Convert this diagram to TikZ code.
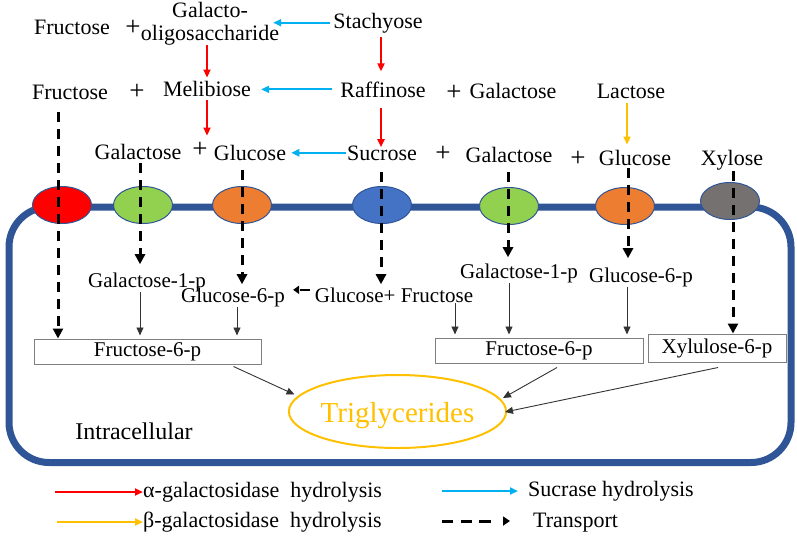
\documentclass[tikz,border=0pt]{standalone}
\usepackage{fontspec}
\setmainfont{Liberation Serif}
\newfontfamily\tnr{Liberation Serif}
\usetikzlibrary{arrows.meta,calc,shapes.geometric}
\definecolor{memb}{HTML}{2F5597}
\definecolor{cred}{HTML}{FF0000}
\definecolor{cblue}{HTML}{00B0F0}
\definecolor{corange}{HTML}{FFC000}
\definecolor{egreen}{HTML}{92D050}
\definecolor{eorange}{HTML}{ED7D31}
\definecolor{eblue}{HTML}{4472C4}
\definecolor{egray}{HTML}{767171}
\definecolor{boxgray}{HTML}{7F7F7F}
\begin{document}
\begin{tikzpicture}[x=1pt,y=-1pt,
  txt/.style={font=\tnr\fontsize{22}{23}\selectfont, inner sep=0pt, anchor=base},
  itxt/.style={font=\tnr\fontsize{21}{22}\selectfont, inner sep=0pt, anchor=base},
  ltxt/.style={font=\tnr\fontsize{22}{23}\selectfont, inner sep=0pt, anchor=base west},
  plus/.style={font=\tnr\fontsize{27}{27}\selectfont, inner sep=0pt, anchor=center},
  enz/.style={line width=2pt, -{Triangle[length=8pt,width=7pt]}},
  redA/.style={enz, draw=cred},
  bluA/.style={enz, draw=cblue},
  oraA/.style={enz, draw=corange},
  trA/.style={line width=3pt, dash pattern=on 10pt off 7pt, -{Triangle[length=10pt,width=10pt]}},
  trB/.style={line width=2.5pt, dash pattern=on 10pt off 6pt, -{Triangle[length=6pt,width=8pt]}},
  trLeg/.style={line width=3pt, dash pattern=on 11pt off 7.5pt on 11pt off 7.5pt on 12pt off 30pt, -{Triangle[length=7pt,width=9pt]}},
  thA/.style={draw=black!80, line width=0.9pt, -{Triangle[length=8pt,width=7pt]}},
  port/.style={ellipse, draw=memb, line width=1pt, minimum width=59pt, minimum height=37pt, inner sep=0pt},
  mbox/.style={draw=boxgray, line width=1pt, inner sep=0pt, font=\tnr\fontsize{21}{22}\selectfont}
]
\useasboundingbox (0,0) rectangle (797,539);
% membrane / cell
\draw[memb, line width=7pt, rounded corners=40pt] (9,207) rectangle (791,462.5);
% transporters
\node[port, fill=cred] (t1) at (62,205) {};
\node[port, fill=egreen] (t2) at (143,205) {};
\node[port, fill=eorange] (t3) at (242,205) {};
\node[port, fill=eblue] (t4) at (382,205) {};
\node[port, fill=egreen] (t5) at (509,206) {};
\node[port, fill=eorange] (t6) at (625,206) {};
\node[port, fill=egray] (t7) at (730,201) {};
% row 1
\node[txt] (fru1) at (72,34) {Fructose};
\node[plus] (p1) at (133,28) {+};
\node[txt, anchor=north, align=center] (gos) at (210,2) {Galacto-\\oligosaccharide};
\node[txt] (sta) at (378,28) {Stachyose};
% row 2
\node[txt] (fru2) at (70,99) {Fructose};
\node[plus] (p2) at (137,92) {+};
\node[txt] (mel) at (207,96) {Melibiose};
\node[txt] (raf) at (383,97) {Raffinose};
\node[plus] (p3) at (454,93) {+};
\node[txt] (gal2) at (513,98) {Galactose};
\node[txt] (lac) at (631,98) {Lactose};
% row 3
\node[txt] (gal3) at (138,159) {Galactose};
\node[plus] (p4) at (200,150) {+};
\node[txt] (glc3) at (250,160) {Glucose};
\node[txt] (suc) at (382,160) {Sucrose};
\node[plus] (p5) at (443,154) {+};
\node[txt] (gal3R) at (509,162) {Galactose};
\node[plus] (p6) at (578,159) {+};
\node[txt] (glc3R) at (635,165) {Glucose};
\node[txt] (xyl) at (732,165) {Xylose};
% intracellular
\node[itxt] (gp1L) at (147,287) {Galactose-1-p};
\node[itxt] (g6pL) at (233,302) {Glucose-6-p};
\node[itxt] (gf) at (394,302) {Glucose+ Fructose};
\node[itxt] (gp1R) at (519,278) {Galactose-1-p};
\node[itxt] (g6pR) at (641,282) {Glucose-6-p};
\node[mbox, minimum width=227pt, minimum height=25pt] (f6pL) at (147.5,351.5) {Fructose-6-p};
\node[mbox, minimum width=208pt, minimum height=25pt] (f6pR) at (539,350.5) {Fructose-6-p};
\node[mbox, minimum width=138pt, minimum height=28pt] (xylp) at (717,348) {Xylulose-6-p};
\node[ellipse, draw=corange, line width=2pt, minimum width=211pt, minimum height=73pt, inner sep=0pt, text=corange, text height=21pt, text depth=0pt, font=\tnr\fontsize{29}{30}\selectfont] (tg) at (397.5,411.5) {Triglycerides};
\node[txt, font=\tnr\fontsize{24}{26}\selectfont] (intra) at (134,439) {Intracellular};
% sucrase hydrolysis
\draw[bluA] ($(sta.west)+(-3,0)$) -- ($(sta.west -| gos.east)+(-6,0)$);
\draw[bluA] ($(raf.west)+(-8,0)$) -- ($(raf.west -| mel.east)+(10,0)$);
\draw[bluA] ($(suc.west)+(-1,0)$) -- ($(suc.west -| glc3.east)+(5,0)$);
% alpha-galactosidase
\draw[redA] (gos.south -| mel.north) -- ($(mel.north)+(0,-3)$);
\draw[redA] ($(sta.south)+(3,4)$) -- ($(raf.north)+(-2,-10)$);
\draw[redA] ($(mel.south)+(0,4)$) -- ($(glc3.north -| mel.south)+(0,-9)$);
\draw[redA] ($(raf.south)+(-2,11)$) -- ($(suc.north)+(-1,2)$);
% beta-galactosidase
\draw[oraA] ($(lac.south)+(-4,5)$) -- ($(glc3R.north -| lac.south)+(-4,-5)$);
% transport
\draw[trA] ($(fru2.south)+(-12,13)$) -- ($(f6pL.north -| fru2.south)+(-12,0)$);
\draw[trA] ($(gal3.south)+(2,4)$) -- ($(gp1L.north -| gal3.south)+(2,-8)$);
\draw[trA] ($(glc3.south)+(-8,10)$) -- ($(g6pL.north -| glc3.south)+(-8,-3)$);
\draw[trA] ($(suc.south)+(-1,12)$) -- ($(gf.north -| suc.south)+(-1,-3)$);
\draw[trA] ($(gal3R.south)+(-1,10)$) -- ($(gp1R.north -| gal3R.south)+(-1,-6)$);
\draw[trA] ($(glc3R.south)+(-7,3)$) -- ($(g6pR.north -| glc3R.south)+(-7,-9)$);
\draw[trA] ($(xyl.south)+(1,1)$) -- ($(xylp.north -| xyl.south)+(1,0)$);
\draw[trB] ($(gf.west)+(-5,-5)$) -- ($(gf.west -| g6pL.east)+(8,-5)$);
% metabolism
\draw[thA] ($(gp1L.south)+(-7,0)$) -- ($(f6pL.north -| gp1L.south)+(-7,-3)$);
\draw[thA] ($(g6pL.south)+(4,0)$) -- ($(f6pL.north -| g6pL.south)+(4,-3)$);
\draw[thA] ($(gf.south)+(61,1)$) -- ($(f6pR.north -| gf.south)+(61,-3)$);
\draw[thA] ($(gp1R.south)+(-10,0)$) -- ($(f6pR.north -| gp1R.south)+(-10,-3)$);
\draw[thA] ($(g6pR.south)+(-14,0)$) -- ($(f6pR.north -| g6pR.south)+(-14,-3)$);
\draw[thA] ($(f6pL.south)+(86,2)$) -- ($(tg.center)+(-103,-17)$);
\draw[thA] ($(f6pR.south)+(18,4)$) -- ($(tg.center)+(105.5,-13.5)$);
\draw[thA] ($(xylp.south)+(1,5)$) -- ($(tg.center)+(107.5,0.5)$);
% legend
\coordinate (lg1) at (55,492);
\node[ltxt] (lga) at (143,497) {α-galactosidase\ \ hydrolysis};
\draw[redA] (lg1) -- (lg1 -| lga.west);
\coordinate (lg2) at (57,522);
\node[ltxt] (lgb) at (143,527) {β-galactosidase\ \ hydrolysis};
\draw[oraA] (lg2) -- (lg2 -| lgb.west);
\coordinate (lg3) at (442,491);
\node[ltxt] (lgc) at (528,496) {Sucrase hydrolysis};
\draw[bluA] (lg3) -- ($(lg3 -| lgc.west)+(-10,0)$);
\coordinate (lg4) at (442,521);
\node[ltxt] (lgd) at (533,527) {Transport};
\draw[trLeg] (lg4) -- ($(lg4 -| lgd.west)+(-23,0)$);
\end{tikzpicture}
\end{document}
